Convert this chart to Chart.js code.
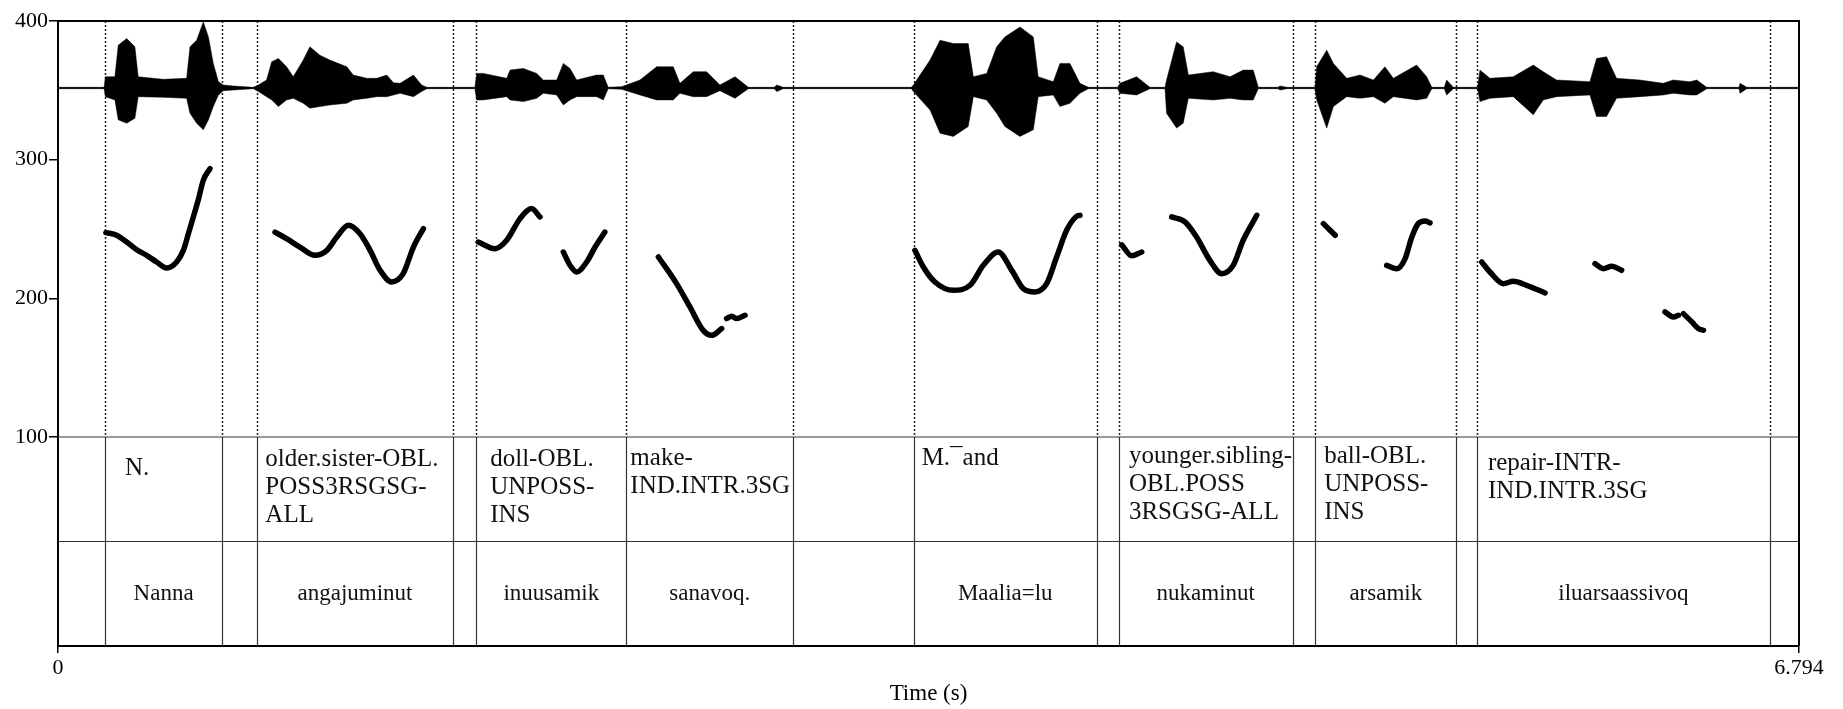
<!DOCTYPE html>
<html>
  <head>
    <title>Pitch and waveform with glosses</title>
    <script src="https://cdn.jsdelivr.net/npm/chart.js"></script>
    <style>
      body { margin: 0; background: #fff; }
      .chart-container { width: 1843px; height: 709px; }
    </style>
  </head>
  <body>
    <div class="chart-container">
      <canvas id="praat-figure" width="1843" height="709"></canvas>
    </div>

    <script>
      // Axes
      const timeMax = 6.794;
      const xTickValues = [0, 6.794];
      const xTickLabels = ['0', '6.794'];
      const yTickValues = [100, 200, 300, 400];

      // Waveform envelope (relative amplitude)
      const waveTimes = [0.000, 0.180, 0.185, 0.222, 0.235, 0.268, 0.300, 0.313, 0.411, 0.502, 0.515, 0.541, 0.567, 0.587, 0.606, 0.626, 0.645, 0.684, 0.762,
        0.782, 0.814, 0.834, 0.860, 0.892, 0.918, 0.957, 0.983, 1.022, 1.061, 1.127, 1.152, 1.205, 1.244, 1.283, 1.309, 1.335, 1.387, 1.419, 1.439,
        1.627, 1.634, 1.660, 1.751, 1.764, 1.816, 1.868, 1.894, 1.946, 1.972, 1.998, 2.024, 2.102, 2.128, 2.147,
        2.200, 2.271, 2.336, 2.401, 2.427, 2.479, 2.531, 2.583, 2.642, 2.694, 2.795, 2.805, 2.830,
        3.330, 3.338, 3.403, 3.442, 3.494, 3.552, 3.572, 3.624, 3.663, 3.695, 3.754, 3.806, 3.825, 3.884, 3.910, 3.949, 3.988, 4.021,
        4.135, 4.144, 4.209, 4.261, 4.320, 4.326, 4.365, 4.391, 4.411, 4.508, 4.574, 4.625, 4.664, 4.684, 4.760, 4.769, 4.795,
        4.905, 4.912, 4.951, 4.977, 5.029, 5.081, 5.133, 5.178, 5.211, 5.302, 5.341, 5.361, 5.410, 5.419, 5.445,
        5.540, 5.549, 5.588, 5.679, 5.757, 5.796, 5.848, 5.978, 6.004, 6.043, 6.082, 6.173, 6.264, 6.303, 6.368, 6.395, 6.434,
        6.560, 6.564, 6.590, 6.794];
      const waveUpper = [0.010, 0.010, 0.168, 0.168, 0.639, 0.738, 0.614, 0.168, 0.129, 0.144, 0.614, 0.713, 0.986, 0.763, 0.367, 0.094, 0.045, 0.030, 0.010,
        0.045, 0.119, 0.391, 0.441, 0.317, 0.168, 0.416, 0.614, 0.490, 0.416, 0.317, 0.193, 0.144, 0.144, 0.193, 0.079, 0.069, 0.193, 0.045, 0.010,
        0.010, 0.218, 0.218, 0.144, 0.267, 0.292, 0.218, 0.119, 0.119, 0.367, 0.292, 0.119, 0.193, 0.193, 0.010,
        0.020, 0.119, 0.317, 0.317, 0.069, 0.243, 0.243, 0.045, 0.168, 0.010, 0.010, 0.045, 0.010,
        0.010, 0.045, 0.416, 0.713, 0.664, 0.664, 0.168, 0.218, 0.614, 0.763, 0.911, 0.763, 0.168, 0.094, 0.367, 0.367, 0.069, 0.010,
        0.010, 0.069, 0.168, 0.010, 0.010, 0.119, 0.688, 0.614, 0.193, 0.243, 0.168, 0.267, 0.267, 0.010, 0.010, 0.030, 0.010,
        0.010, 0.317, 0.565, 0.367, 0.144, 0.193, 0.119, 0.317, 0.144, 0.342, 0.168, 0.010, 0.010, 0.119, 0.010,
        0.010, 0.267, 0.144, 0.168, 0.342, 0.243, 0.119, 0.094, 0.441, 0.466, 0.144, 0.119, 0.069, 0.119, 0.094, 0.119, 0.010,
        0.010, 0.069, 0.010, 0.010];
      const waveLower = [-0.010, -0.010, -0.129, -0.178, -0.475, -0.525, -0.451, -0.129, -0.139, -0.154, -0.376, -0.525, -0.624, -0.475, -0.277, -0.104, -0.040, -0.030, -0.010,
        -0.054, -0.129, -0.178, -0.277, -0.178, -0.154, -0.228, -0.302, -0.277, -0.253, -0.228, -0.178, -0.154, -0.129, -0.129, -0.104, -0.079, -0.129, -0.054, -0.010,
        -0.010, -0.178, -0.178, -0.129, -0.178, -0.203, -0.154, -0.079, -0.104, -0.253, -0.178, -0.129, -0.129, -0.178, -0.010,
        -0.020, -0.104, -0.178, -0.178, -0.079, -0.129, -0.129, -0.040, -0.154, -0.010, -0.010, -0.054, -0.010,
        -0.010, -0.054, -0.327, -0.674, -0.723, -0.575, -0.129, -0.178, -0.376, -0.575, -0.723, -0.624, -0.129, -0.104, -0.277, -0.228, -0.079, -0.010,
        -0.010, -0.079, -0.104, -0.010, -0.010, -0.376, -0.599, -0.525, -0.154, -0.178, -0.154, -0.178, -0.178, -0.010, -0.010, -0.030, -0.010,
        -0.010, -0.178, -0.599, -0.277, -0.129, -0.154, -0.129, -0.228, -0.129, -0.178, -0.154, -0.010, -0.010, -0.104, -0.010,
        -0.010, -0.203, -0.154, -0.129, -0.401, -0.178, -0.129, -0.104, -0.426, -0.426, -0.154, -0.129, -0.104, -0.079, -0.104, -0.104, -0.010,
        -0.010, -0.079, -0.010, -0.010];

      // Pitch track (Hz); null marks an unvoiced gap
      const pitchTimes = [0.187, 0.229, 0.268, 0.307, 0.346, 0.385, 0.424, 0.463, 0.489, 0.509, 0.528, 0.547, 0.567, 0.593, null,
        0.847, 0.892, 0.944, 1.003, 1.049, 1.088, 1.133, 1.178, 1.218, 1.257, 1.302, 1.347, 1.387, 1.426, null,
        1.640, 1.705, 1.751, 1.803, 1.848, 1.881, null,
        1.972, 1.998, 2.024, 2.063, 2.096, 2.134, null,
        2.343, 2.414, 2.466, 2.518, 2.551, 2.590, null,
        2.609, 2.629, 2.648, 2.681, null,
        3.344, 3.377, 3.422, 3.494, 3.559, 3.611, 3.669, 3.722, 3.767, 3.813, 3.858, 3.897, 3.936, 3.975, 3.988, null,
        4.151, 4.190, 4.229, null,
        4.346, 4.398, 4.443, 4.495, 4.541, 4.586, 4.625, 4.678, null,
        4.938, 4.984, null,
        5.185, 5.224, 5.257, 5.283, 5.308, 5.335, 5.354, null,
        5.556, 5.588, 5.640, 5.679, 5.731, 5.803, null,
        5.998, 6.030, 6.063, 6.102, null,
        6.271, 6.304, 6.323, null,
        6.343, 6.376, 6.401, 6.421];
      const pitchHz = [247.4, 245.5, 240.6, 235.1, 231.0, 226.2, 221.9, 226.2, 234.6, 246.7, 258.7, 270.7, 285.1, 293.6, null,
        247.8, 243.0, 237.0, 231.0, 234.6, 244.2, 252.7, 246.7, 234.6, 220.2, 211.8, 217.8, 237.0, 250.3, null,
        240.6, 235.8, 241.9, 257.5, 264.7, 258.7, null,
        233.4, 223.8, 219.0, 226.2, 237.0, 247.8, null,
        229.8, 210.6, 193.8, 176.9, 173.3, 178.2, null,
        185.4, 187.0, 185.4, 187.8, null,
        234.6, 222.6, 211.8, 205.8, 209.4, 223.8, 233.4, 220.2, 207.0, 204.6, 210.6, 229.8, 249.1, 259.2, 259.9, null,
        238.6, 230.7, 233.4, null,
        258.7, 255.1, 244.2, 227.4, 217.8, 223.8, 241.9, 259.9, null,
        253.9, 245.5, null,
        223.8, 221.4, 228.7, 244.2, 253.9, 255.8, 254.4, null,
        226.2, 219.0, 210.6, 212.3, 209.4, 203.9, null,
        225.0, 221.4, 223.1, 220.2, null,
        190.2, 186.6, 187.8, null,
        189.0, 183.0, 178.2, 177.0];

      // TextGrid: interval boundaries (s), words and glosses
      const boundaries = [0.183, 0.641, 0.778, 1.540, 1.632, 2.218, 2.869, 3.339, 4.054, 4.140, 4.818, 4.906, 5.457, 5.537, 6.681];
      const wordStart = [0.183, 0.778, 1.632, 2.218, 3.339, 4.140, 4.906, 5.537];
      const wordEnd = [0.641, 1.540, 2.218, 2.869, 4.054, 4.818, 5.457, 6.681];
      const words = ['Nanna', 'angajuminut', 'inuusamik', 'sanavoq.', 'Maalia=lu', 'nukaminut', 'arsamik', 'iluarsaassivoq'];
      const glosses = [
        ['N.'],
        ['older.sister-OBL.', 'POSS3RSGSG-', 'ALL'],
        ['doll-OBL.', 'UNPOSS-', 'INS'],
        ['make-', 'IND.INTR.3SG'],
        ['M.\u00AFand'],
        ['younger.sibling-', 'OBL.POSS', '3RSGSG-ALL'],
        ['ball-OBL.', 'UNPOSS-', 'INS'],
        ['repair-INTR-', 'IND.INTR.3SG']
      ];

      const serif = '"Liberation Serif", "Times New Roman", serif';
      // gloss text placement inside its cell (px)
      const glossIndent = [20, 8, 14, 4, 8, 10, 9, 11];
      const glossShift = [10, 1, 1, 0, 0, -2, -2, 5];

      const tierPlugin = {
        id: 'tiers',
        beforeDatasetsDraw(chart) {
          const { ctx, chartArea: a, scales: { x, y } } = chart;
          const y100 = y.getPixelForValue(100);
          ctx.save();
          ctx.strokeStyle = '#222';
          ctx.lineWidth = 1.5;
          ctx.setLineDash([2, 2]);
          boundaries.forEach(t => {
            const px = Math.round(x.getPixelForValue(t)) + 0.5;
            ctx.beginPath();
            ctx.moveTo(px, a.top);
            ctx.lineTo(px, y100);
            ctx.stroke();
          });
          ctx.restore();
        },
        afterDraw(chart) {
          const { ctx, chartArea: a, scales: { x, y } } = chart;
          const y100 = y.getPixelForValue(100);
          const yMid = (y100 + a.bottom) / 2;
          ctx.save();

          // tier grid
          ctx.strokeStyle = '#333';
          ctx.lineWidth = 1.2;
          [y100, yMid].forEach(py => {
            ctx.beginPath();
            ctx.moveTo(a.left, py);
            ctx.lineTo(a.right, py);
            ctx.stroke();
          });
          boundaries.forEach(t => {
            const px = Math.round(x.getPixelForValue(t)) + 0.5;
            ctx.beginPath();
            ctx.moveTo(px, y100);
            ctx.lineTo(px, a.bottom);
            ctx.stroke();
          });

          // outer frame (top and right)
          ctx.strokeStyle = '#000';
          ctx.lineWidth = 2;
          ctx.beginPath();
          ctx.moveTo(a.left, a.top);
          ctx.lineTo(a.right, a.top);
          ctx.lineTo(a.right, a.bottom);
          ctx.stroke();

          // glosses
          ctx.fillStyle = '#111';
          ctx.textBaseline = 'middle';
          ctx.textAlign = 'left';
          ctx.font = '25px ' + serif;
          glosses.forEach((lines, i) => {
            const px = x.getPixelForValue(wordStart[i]) + glossIndent[i];
            lines.forEach((line, j) => {
              ctx.fillText(line, px, y100 + 21 + glossShift[i] + j * 28);
            });
          });

          // words
          ctx.textAlign = 'center';
          ctx.font = '23px ' + serif;
          const yWord = (yMid + a.bottom) / 2;
          words.forEach((w, i) => {
            const px = (x.getPixelForValue(wordStart[i]) + x.getPixelForValue(wordEnd[i])) / 2;
            ctx.fillText(w, px, yWord);
          });
          ctx.restore();
        }
      };

      const ctx = document.getElementById('praat-figure').getContext('2d');
      const chart = new Chart(ctx, {
        type: 'line',
        data: {
          datasets: [
            {
              label: 'wave upper',
              yAxisID: 'yWave',
              data: waveTimes.map((t, i) => ({ x: t, y: waveUpper[i] })),
              borderColor: '#000',
              borderWidth: 0.5,
              pointRadius: 0,
              fill: false
            },
            {
              label: 'wave lower',
              yAxisID: 'yWave',
              data: waveTimes.map((t, i) => ({ x: t, y: waveLower[i] })),
              borderColor: '#000',
              backgroundColor: '#000',
              borderWidth: 0.5,
              pointRadius: 0,
              fill: '-1'
            },
            {
              label: 'baseline',
              yAxisID: 'yWave',
              data: [{ x: 0, y: 0 }, { x: timeMax, y: 0 }],
              borderColor: '#666',
              borderWidth: 1,
              pointRadius: 0,
              fill: false
            },
            {
              label: 'pitch',
              yAxisID: 'y',
              data: pitchTimes.map((t, i) => ({ x: t, y: pitchHz[i] })),
              borderColor: '#000',
              borderWidth: 5.5,
              borderCapStyle: 'round',
              borderJoinStyle: 'round',
              cubicInterpolationMode: 'monotone',
              spanGaps: false,
              pointRadius: 0,
              fill: false
            }
          ]
        },
        options: {
          responsive: false,
          animation: false,
          devicePixelRatio: 1,
          layout: { padding: { top: 21, right: 44, left: 0, bottom: 0 } },
          plugins: {
            legend: { display: false },
            tooltip: { enabled: false }
          },
          scales: {
            x: {
              type: 'linear',
              min: 0,
              max: timeMax,
              afterBuildTicks: s => { s.ticks = xTickValues.map(v => ({ value: v })); },
              afterFit: s => { s.height = 63; },
              grid: { drawOnChartArea: false, tickLength: 7, color: '#000', lineWidth: 1.5 },
              border: { display: true, color: '#000', width: 2 },
              ticks: {
                color: '#000',
                font: { family: serif, size: 22 },
                padding: 2,
                maxRotation: 0,
                autoSkip: false,
                callback: (v, i) => xTickLabels[i]
              },
              title: {
                display: true,
                text: 'Time (s)',
                color: '#000',
                font: { family: serif, size: 23 },
                padding: { top: 0, bottom: 1 }
              }
            },
            y: {
              type: 'linear',
              position: 'left',
              min: -50.7,
              max: 400,
              afterBuildTicks: s => { s.ticks = yTickValues.map(v => ({ value: v })); },
              afterFit: s => { s.width = 58; },
              grid: { drawOnChartArea: false, tickLength: 9, color: '#000', lineWidth: 1.5 },
              border: { display: true, color: '#000', width: 2 },
              ticks: { color: '#000', font: { family: serif, size: 22 }, padding: 1 }
            },
            yWave: {
              type: 'linear',
              display: false,
              min: -8.33,
              max: 1
            }
          }
        },
        plugins: [tierPlugin]
      });
    </script>
  </body>
</html>
